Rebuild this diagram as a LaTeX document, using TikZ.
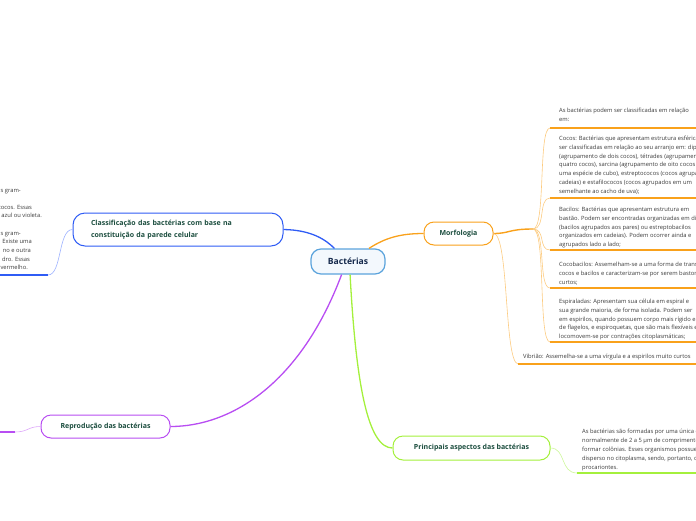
\documentclass[tikz,border=0pt]{standalone}
\usepackage{fontspec}
\setmainfont{Open Sans}
\usetikzlibrary{positioning}
\definecolor{titletext}{HTML}{1B4D3E}
\definecolor{roottext}{HTML}{14284B}
\definecolor{rootline}{HTML}{5BA3DC}
\definecolor{rootfill}{HTML}{F3F8FD}
\definecolor{bodytext}{HTML}{3A3A3A}
\definecolor{bluebr}{HTML}{2F5CF5}
\definecolor{bluelt}{HTML}{9DB2FF}
\definecolor{orangebr}{HTML}{F9A11B}
\definecolor{orangelt}{HTML}{FCCB80}
\definecolor{purplebr}{HTML}{B84DF2}
\definecolor{purplelt}{HTML}{DDA6FA}
\definecolor{greenbr}{HTML}{A4F03C}
\definecolor{greenlt}{HTML}{CDF79A}

\begin{document}
\begin{tikzpicture}[
    x=1pt, y=-1pt,
    root/.style={
        rectangle,
        draw=rootline,
        fill=rootfill,
        line width=1.2pt,
        rounded corners=10pt,
        minimum width=74pt,
        minimum height=25pt,
        text=roottext,
        font=\fontsize{8.6}{10}\selectfont\bfseries
    },
    topic/.style={
        rectangle,
        draw,
        fill=white,
        line width=1pt,
        rounded corners=10pt,
        text=titletext,
        font=\fontsize{7}{11.5}\selectfont\bfseries
    },
    branch/.style={
        line width=1.3pt
    },
    twig/.style={
        line width=0.6pt
    },
    under/.style={
        line width=1.6pt
    },
    leaf/.style={
        anchor=base west,
        align=left,
        inner sep=0pt,
        text=bodytext,
        font=\fontsize{5.8}{8.7}\selectfont
    },
    cut/.style={
        anchor=base east,
        inner sep=0pt,
        text=bodytext,
        font=\fontsize{5.8}{8.7}\selectfont
    }
]
\useasboundingbox (0,0) rectangle (696,520);
\clip (0,0) rectangle (696,520);

% main topics
\node[root] (bact) at (348,261.5) {Bactérias};

\node[topic, draw=orangebr, minimum width=69pt, minimum height=23pt]
    (morf) at (458.5,233.5) {Morfologia};

\node[topic, draw=bluebr, minimum width=210pt, minimum height=33pt,
      text width=174pt, inner xsep=18pt, align=left, rounded corners=12pt]
    (classif) at (178,229.5)
    {Classificação das bactérias com base na\\constituição da parede celular};

\node[topic, draw=purplebr, minimum width=129pt, minimum height=23pt]
    (repro) at (105.5,426.5) {Reprodução das bactérias};

\node[topic, draw=greenbr, minimum width=157pt, minimum height=24pt]
    (aspec) at (471.5,448) {Principais aspectos das bactérias};

\draw[branch, bluebr] (bact.136) .. controls (326,240) and (312,230) .. (classif.east);
\draw[branch, orangebr] (bact.32) .. controls (385,238) and (400,233.5) .. (morf.west);
\draw[branch, purplebr] (bact.244) .. controls (300,385) and (230,426.5) .. (repro.east);
\draw[branch, greenbr] (bact.279) .. controls (356,385) and (368,448) .. (aspec.west);

% morfologia
\coordinate (hub) at (533,229);
\coordinate (m1) at (550,128);
\coordinate (m2) at (550,198);
\coordinate (m3) at (550,250);
\coordinate (m4) at (550,288);
\coordinate (m5) at (550,342);
\coordinate (m6) at (518,364);

\draw[branch, orangebr, line width=1.4pt] (morf.east) .. controls (510,233.5) and (508,229) .. (hub);
\foreach \m in {m1,m2,m3,m4,m5}
    \draw[twig, orangelt] (hub) .. controls (546,229) and (538,0|-\m) .. (\m);
\draw[twig, orangelt] (morf.east) .. controls (509,233.5) and (504,362) .. (m6);
\foreach \m in {m1,m2,m3,m4,m5,m6}
    \draw[under, orangebr] (\m) -- (700,0|-\m);

% text blocks are placed by the baseline of their last line
\node[leaf] (forma) at (559,121)
    {As bactérias podem ser classificadas em relação\\em:};
\node[leaf] (cocos) at (559,193)
    {Cocos: Bactérias que apresentam estrutura esférica\\
     ser classificadas em relação ao seu arranjo em: diplococos\\
     (agrupamento de dois cocos), tétrades (agrupamento\\
     quatro cocos), sarcina (agrupamento de oito cocos\\
     uma espécie de cubo), estreptococos (cocos agrupados\\
     cadeias) e estafilococos (cocos agrupados em um\\
     semelhante ao cacho de uva);};
\node[leaf] (bacilos) at (559,246.5)
    {Bacilos: Bactérias que apresentam estrutura em\\
     bastão. Podem ser encontradas organizadas em diplobacilos\\
     (bacilos agrupados aos pares) ou estreptobacilos\\
     organizados em cadeias). Podem ocorrer ainda e\\
     agrupados lado a lado;};
\node[leaf] (cocobac) at (559,284)
    {Cocobacilos: Assemelham-se a uma forma de transição\\
     cocos e bacilos e caracterizam-se por serem bastonetes\\
     curtos;};
\node[leaf] (espir) at (559,338.5)
    {Espiraladas: Apresentam sua célula em espiral e\\
     sua grande maioria, de forma isolada. Podem ser\\
     em espirilos, quando possuem corpo mais rígido e\\
     de flagelos, e espiroquetas, que são mais flexíveis e\\
     locomovem-se por contrações citoplasmáticas;};
\node[leaf] (vibriao) at (523,358)
    {Vibrião: Assemelha-se a uma vírgula e a espirilos muito curtos};

% classificacao
\coordinate (c1) at (48,275);
\draw[twig, bluelt] (classif.west) .. controls (58,229.5) and (62,275) .. (c1);
\draw[under, bluebr] (c1) -- (-4,275);
\node[cut] (gp1) at (21,192) {s gram-};
\node[cut] (gp2) at (32,209) {cocos. Essas};
\node[cut] (gp3) at (42,217) {azul ou violeta.};
\node[cut] (gn1) at (21,235) {s gram-};
\node[cut] (gn2) at (32,243) {Existe uma};
\node[cut] (gn3) at (31,252) {no e outra};
\node[cut] (gn4) at (30,261) {dro. Essas};
\node[cut] (gn5) at (28,269) {vermelho.};

% reproducao
\coordinate (r1) at (15,432);
\draw[twig, purplelt] (repro.west) .. controls (28,426.5) and (28,432) .. (r1);
\draw[under, purplebr] (r1) -- (-4,432);

% aspectos
\coordinate (a1) at (577,473);
\draw[twig, greenlt] (aspec.east) .. controls (566,448) and (560,473) .. (a1);
\draw[under, greenbr] (a1) -- (700,473);
\node[leaf, font=\fontsize{5.8}{9}\selectfont] (celula) at (582,469)
    {As bactérias são formadas por uma única célula\\
     normalmente de 2 a 5 µm de comprimento\\
     formar colônias. Esses organismos possuem\\
     disperso no citoplasma, sendo, portanto, c\\
     procariontes.};

\end{tikzpicture}
\end{document}
